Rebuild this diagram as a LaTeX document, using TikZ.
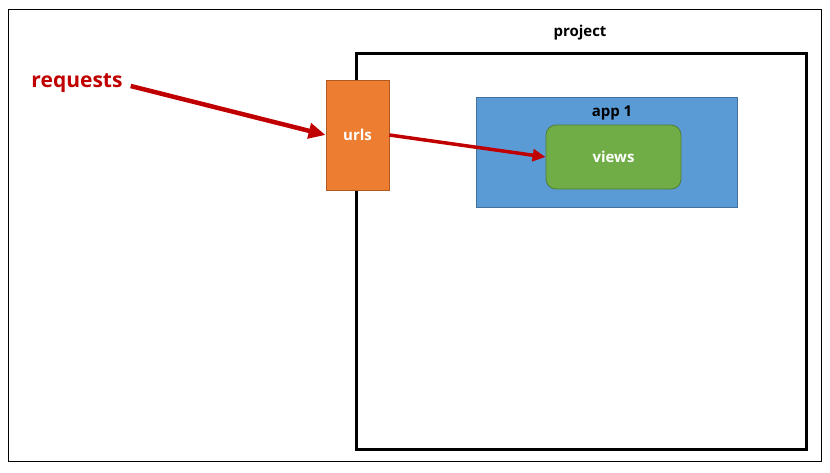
\documentclass[tikz,border=0pt]{standalone}
\usepackage{fontspec}
\setmainfont{Open Sans}
\usetikzlibrary{arrows.meta}
\definecolor{reqred}{HTML}{C00000}
\definecolor{urlfill}{HTML}{ED7D31}
\definecolor{urledge}{HTML}{AE5A21}
\definecolor{appfill}{HTML}{5B9BD5}
\definecolor{appedge}{HTML}{41719C}
\definecolor{viewfill}{HTML}{70AD47}
\definecolor{viewedge}{HTML}{507E32}
\tikzset{
  lbl/.style={font=\bfseries\fontsize{15}{18}\selectfont, inner sep=0pt},
  flow/.style={draw=reqred, line width=#1},
}
\begin{document}
\begin{tikzpicture}[x=1pt, y=-1pt]
  \useasboundingbox (0,0) rectangle (830,472);
  % outer frame
  \draw[line width=1pt] (8,9) rectangle (821,461);
  % project container
  \node[draw, line width=3pt, minimum width=450pt, minimum height=396pt, anchor=north west, inner sep=0pt] (project) at (355,52) {};
  \node[lbl, text=black] (projlbl) at (580,33) {project};
  % app 1 container
  \node[draw=appedge, fill=appfill, line width=0.8pt, minimum width=261pt, minimum height=110pt, anchor=north west, inner sep=0pt] (app) at (476,97) {};
  \node[lbl, text=black] (applbl) at (612,113) {app 1};
  % views
  \node[draw=viewedge, fill=viewfill, line width=0.8pt, rounded corners=10pt, minimum width=135pt, minimum height=64pt, inner sep=0pt, lbl, text=white] (views) at (613.5,157) {views};
  % urls
  \node[draw=urledge, fill=urlfill, line width=0.8pt, minimum width=63pt, minimum height=110pt, inner sep=0pt, lbl, text=white] (urls) at (357.5,135) {urls};
  % requests label
  \node[font=\bfseries\fontsize{21}{24}\selectfont, text=reqred, inner sep=0pt] (req) at (77,83) {requests};
  % arrows
  \draw[flow=4.5pt, -{Triangle[length=17pt,width=15pt]}] ([xshift=8pt,yshift=-3pt]req.east) -- (urls.west);
  \draw[flow=3.5pt, -{Triangle[length=13pt,width=12pt]}] (urls.east) -- (views.west);
\end{tikzpicture}
\end{document}
